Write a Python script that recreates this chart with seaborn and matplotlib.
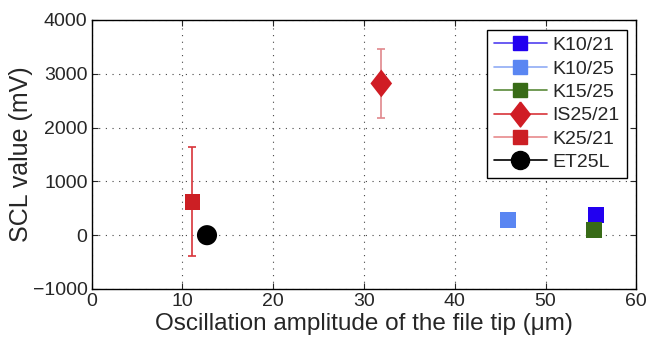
import matplotlib
matplotlib.use("Agg")
import matplotlib.pyplot as plt
from matplotlib.lines import Line2D
import seaborn as sns
import pandas as pd

series = ["K10/21", "K10/25", "K15/25", "IS25/21", "K25/21", "ET25L"]
amplitude = [55.6, 45.9, 55.3, 31.9, 11.1, 12.7]
scl = [380, 280, 95, 2820, 620, 0]
scl_err = [80, 0, 0, 640, 1010, 0]
colors = ["#2200f0", "#5a86f2", "#386b17", "#d01c24", "#cc1f24", "#000000"]
line_colors = ["#5040f0", "#90acf5", "#5a8a3a", "#d8343a", "#e88a8c", "#000000"]
err_colors = ["#5040f0", "#90acf5", "#5a8a3a", "#e0888c", "#d8343a", "#000000"]

diamond = [(0, 1), (0.78, 0), (0, -1), (-0.78, 0), (0, 1)]
markers = ["s", "s", "s", diamond, "s", "o"]
sizes = [130, 130, 130, 400, 130, 210]

xticks = [0, 10, 20, 30, 40, 50, 60]
yticks = [-1000, 0, 1000, 2000, 3000, 4000]

sns.set_style("ticks")
plt.rcParams["font.family"] = ["Liberation Sans", "DejaVu Sans"]

df = pd.DataFrame({"series": series, "amp": amplitude, "scl": scl, "err": scl_err})

fig, ax = plt.subplots(figsize=(6.46, 3.38), dpi=100)
fig.subplots_adjust(left=0.142, right=0.985, top=0.941, bottom=0.145)

for i, row in df.iterrows():
    if row["err"] > 0:
        ax.errorbar(row["amp"], row["scl"], yerr=row["err"], fmt="none",
                    ecolor=err_colors[i], elinewidth=1.2, capsize=3, capthick=1.2, zorder=2)

sns.scatterplot(data=df, x="amp", y="scl", hue="series", palette=colors,
                style="series", markers=dict(zip(series, markers)),
                size="series", sizes=dict(zip(series, sizes)),
                edgecolor="none", linewidth=0, legend=False, ax=ax, zorder=3)

ax.set_xlim(0, 60)
ax.set_ylim(-1000, 4000)
ax.set_xticks(xticks)
ax.set_yticks(yticks)
ax.set_xticklabels([str(t) for t in xticks])
ax.set_yticklabels([str(t).replace("-", "\u2212") for t in yticks])
ax.tick_params(direction="in", top=True, right=True, labelsize=14, length=4.5, width=0.8, pad=3)
for s in ax.spines.values():
    s.set_linewidth(1.0)
    s.set_color("black")
ax.grid(True, linestyle=(0, (1, 5)), color="#444444", linewidth=0.8)
ax.set_axisbelow(True)

ax.set_xlabel("Oscillation amplitude of the file tip (\u03bcm)", fontsize=17.5, labelpad=2)
ax.set_ylabel("SCL value (mV)", fontsize=18, labelpad=0)

msz = [10, 10, 10, 18, 10, 13]
handles = [Line2D([0], [0], color=line_colors[i], lw=1.2, marker=markers[i],
                  markersize=msz[i], markerfacecolor=colors[i], markeredgecolor=colors[i])
           for i in range(len(series))]
leg = ax.legend(handles, series, loc="upper right", fontsize=14, frameon=True,
                fancybox=False, framealpha=1, edgecolor="black", handlelength=2.7,
                borderaxespad=0.5, labelspacing=0.3, handletextpad=0.3, borderpad=0.35)
leg.get_frame().set_linewidth(1.0)

fig.savefig("out.png", dpi=100)
